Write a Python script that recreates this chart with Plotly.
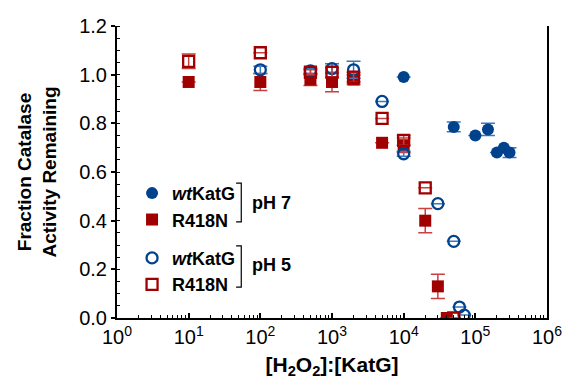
import plotly.graph_objects as go

# ---- data ----
wt7_x = [1e4, 5e4, 1e5, 1.5e5, 2e5, 2.5e5, 3e5]
wt7_y = [0.99, 0.785, 0.75, 0.775, 0.68, 0.70, 0.68]
wt7_err = [0, 0.02, 0, 0.025, 0, 0, 0.02]

r7_x = [10, 100, 500, 1000, 2000, 5000, 1e4, 2e4, 3e4, 4e4]
r7_y = [0.97, 0.97, 0.98, 0.97, 0.98, 0.72, 0.71, 0.40, 0.13, 0.0]
r7_err = [0, 0.035, 0.025, 0.04, 0.02, 0, 0.03, 0.05, 0.05, 0]

wt5_x = [100, 500, 1000, 2000, 5000, 1e4, 3e4, 5e4, 6e4, 7e4]
wt5_y = [1.02, 1.015, 1.025, 1.02, 0.89, 0.675, 0.47, 0.315, 0.045, 0.012]
wt5_err = [0.015, 0.01, 0.02, 0.035, 0, 0.01, 0, 0, 0, 0]

r5_x = [10, 100, 500, 1000, 2000, 5000, 1e4, 2e4, 5e4]
r5_y = [1.055, 1.09, 1.01, 1.01, 0.99, 0.82, 0.73, 0.535, 0.0]
r5_err = [0.03, 0, 0.01, 0.02, 0.02, 0, 0.02, 0, 0]

x_tickvals = [1, 10, 100, 1000, 1e4, 1e5, 1e6]
x_ticktext = ["10<sup>0</sup>", "10<sup>1</sup>", "10<sup>2</sup>", "10<sup>3</sup>",
              "10<sup>4</sup>", "10<sup>5</sup>", "10<sup>6</sup>"]

RED = "#a00000"
BLUE = "#00428c"
RED_E = "#c84040"
BLUE_E = "#3a78c0"

FONT = "Liberation Sans, Arial, sans-serif"

fig = go.Figure()

def add(x, y, err, name, symbol, color, ecolor, group, filled):
    marker = dict(symbol=symbol, size=12 if filled else 11, color=color,
                  line=dict(color=color, width=0 if filled else 2.3))
    fig.add_trace(go.Scatter(
        x=x, y=y, mode="markers", name=name, legendgroup=group,
        marker=marker,
        error_y=dict(type="data", array=err, visible=True, color=ecolor,
                     thickness=1.5, width=7),
    ))

add(wt7_x, wt7_y, wt7_err, "<i>wt</i>KatG", "circle", BLUE, BLUE_E, "pH7", True)
add(r7_x, r7_y, r7_err, "R418N", "square", RED, RED_E, "pH7", True)
add(wt5_x, wt5_y, wt5_err, "<i>wt</i>KatG", "circle-open", BLUE, BLUE_E, "pH5", False)
add(r5_x, r5_y, r5_err, "R418N", "square-open", RED, RED_E, "pH5", False)

fig.update_layout(
    width=574, height=387,
    margin=dict(l=117, r=17, t=26, b=69),
    paper_bgcolor="white", plot_bgcolor="white",
    font=dict(family=FONT, color="black", size=20),
    showlegend=True,
    legend=dict(x=0.035, y=0.49, xanchor="left", yanchor="top",
                traceorder="grouped", tracegroupgap=12,
                font=dict(size=18, family=FONT, color="black", weight="bold"),
                bgcolor="rgba(0,0,0,0)", itemwidth=30),
    xaxis=dict(type="log", range=[0, 6], tickvals=x_tickvals, ticktext=x_ticktext,
               showline=True, linecolor="black", linewidth=2, mirror=False,
               ticks="inside", ticklen=5, tickwidth=1.5, tickcolor="black",
               showgrid=False, zeroline=False,
               tickfont=dict(size=20),
               minor=dict(ticks="inside", ticklen=3, tickwidth=1.2, tickcolor="black",
                          dtick="D1", showgrid=False),
               title=dict(text="<b>[H<sub>2</sub>O<sub>2</sub>]:[KatG]</b>",
                          font=dict(size=21), standoff=10)),
    yaxis=dict(range=[0, 1.2], dtick=0.2, tickformat=".1f",
               showline=True, linecolor="black", linewidth=2, mirror=True,
               ticks="outside", ticklen=4, tickwidth=1.5, tickcolor="black",
               showgrid=False, zeroline=False,
               tickfont=dict(size=20),
               minor=dict(ticks="inside", ticklen=3, tickwidth=1.2, tickcolor="black",
                          dtick=0.05, showgrid=False),
               title=dict(text="<b>Fraction Catalase<br>Activity Remaining</b>",
                          font=dict(size=19), standoff=18)),
)

# brackets for legend groups
def bracket(x, y0, y1):
    fig.add_shape(type="path", xref="paper", yref="paper",
                  path=f"M {x-0.012},{y0} L {x},{y0} L {x},{y1} L {x-0.012},{y1}",
                  line=dict(color="black", width=1.2))

bracket(0.289, 0.462, 0.329)
bracket(0.289, 0.247, 0.106)
fig.add_annotation(x=0.309, y=0.395, xref="paper", yref="paper", text="<b>pH 7</b>",
                   showarrow=False, xanchor="left", yanchor="middle", font=dict(size=18))
fig.add_annotation(x=0.309, y=0.18, xref="paper", yref="paper", text="<b>pH 5</b>",
                   showarrow=False, xanchor="left", yanchor="middle", font=dict(size=18))

fig.write_html("out.html")
